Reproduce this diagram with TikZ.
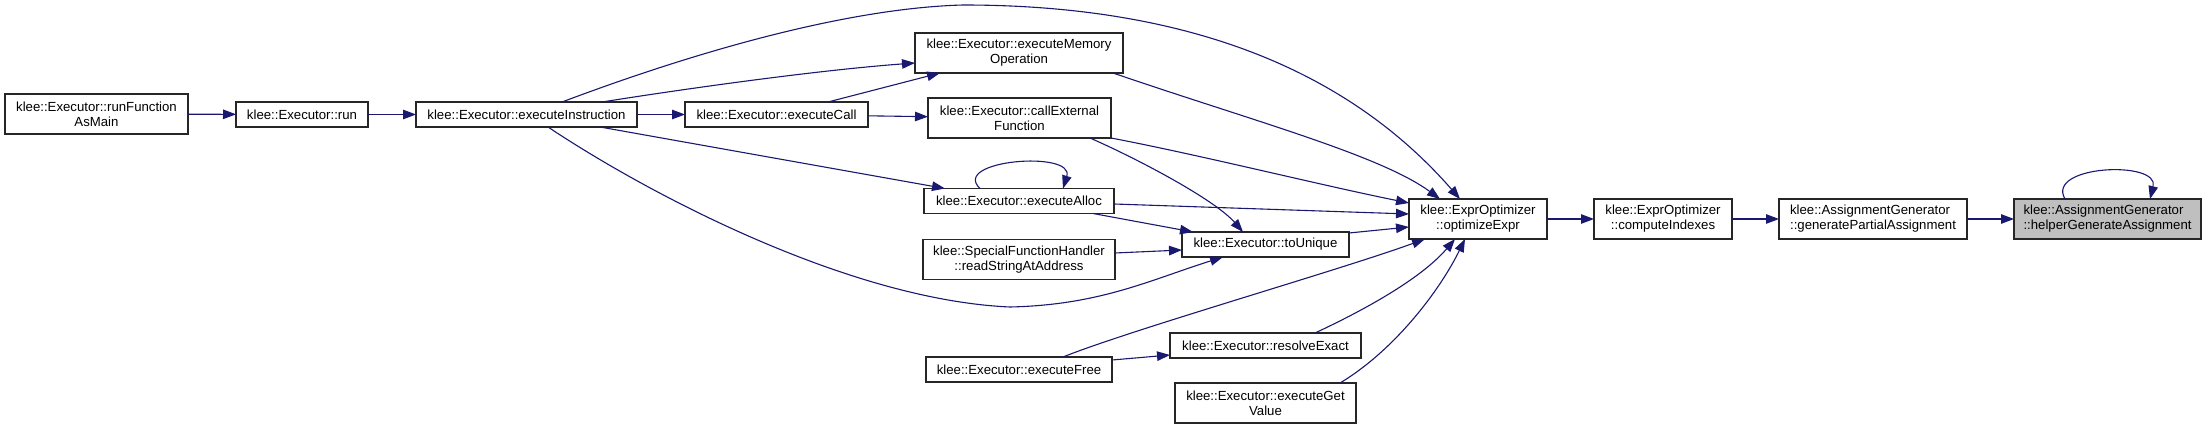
\documentclass[tikz,border=0pt]{standalone}
\usepackage{fontspec}
\setmainfont{Liberation Sans}
\usetikzlibrary{arrows.meta}
\definecolor{edgecol}{HTML}{191970}
\definecolor{boxline}{HTML}{262626}
\definecolor{hl}{HTML}{BFBFBF}
\begin{document}
\begin{tikzpicture}[x=1pt,y=-1pt,
  font=\fontsize{13.2}{15}\selectfont,
  box/.style={draw=boxline, line width=1.4pt, fill=white, inner sep=0pt, outer sep=0pt, align=center},
  lbox/.style={box, align=left},
  edge/.style={draw=edgecol, line width=1.1pt, -{Triangle[length=13pt,width=9.5pt]}}]
\fill[white] (0,0) rectangle (2207,430);
\useasboundingbox (0,0) rectangle (2207,430);
% nodes
\node[box, minimum width=183pt, minimum height=40pt] (runMain) at (96.5,114) {klee::Executor::runFunction\\AsMain};
\node[box, minimum width=132pt, minimum height=25pt] (run) at (302,114.5) {klee::Executor::run};
\node[box, minimum width=221pt, minimum height=25pt] (execInstr) at (526.5,114.5) {klee::Executor::executeInstruction};
\node[box, minimum width=183pt, minimum height=25pt] (execCall) at (776.5,114.5) {klee::Executor::executeCall};
\node[box, minimum width=208pt, minimum height=40pt] (execMemOp) at (1019,53) {klee::Executor::executeMemory\\Operation};
\node[box, minimum width=183pt, minimum height=40pt] (callExt) at (1019.5,118) {klee::Executor::callExternal\\Function};
\node[box, minimum width=190pt, minimum height=25pt] (execAlloc) at (1019,201) {klee::Executor::executeAlloc};
\node[box, minimum width=192pt, minimum height=40pt] (readStr) at (1019,259.5) {klee::SpecialFunctionHandler\\::readStringAtAddress};
\node[box, minimum width=167pt, minimum height=25pt] (toUnique) at (1265.5,244.5) {klee::Executor::toUnique};
\node[box, minimum width=191pt, minimum height=25pt] (resolve) at (1265.5,345.5) {klee::Executor::resolveExact};
\node[box, minimum width=186pt, minimum height=25pt] (execFree) at (1019,369.5) {klee::Executor::executeFree};
\node[box, minimum width=181pt, minimum height=40pt] (getVal) at (1265.5,403) {klee::Executor::executeGet\\Value};
\node[box, minimum width=138pt, minimum height=40pt] (optExpr) at (1478,219) {klee::ExprOptimizer\\::optimizeExpr};
\node[box, minimum width=138pt, minimum height=40pt] (compIdx) at (1663,219) {klee::ExprOptimizer\\::computeIndexes};
\node[lbox, minimum width=188pt, minimum height=40pt] (genPart) at (1873,219) {klee::AssignmentGenerator\\::generatePartialAssignment};
\node[lbox, fill=hl, minimum width=187pt, minimum height=40pt] (helper) at (2107.5,219) {klee::AssignmentGenerator\\::helperGenerateAssignment};
% edges
\draw[edge] (runMain) -- (run);
\draw[edge] (run) -- (execInstr);
\draw[edge] (execInstr) -- (execCall);
\draw[edge] ([xshift=35.5pt]execInstr.north) .. controls (700,50) and (850,8) .. (963,5) .. controls (1150,5) and (1330,50) .. ([xshift=-18pt]optExpr.north);
\draw[edge] ([xshift=75.5pt]execInstr.north) .. controls (690,88) and (820,70) .. ([yshift=-10pt]execMemOp.west);
\draw[edge] ([xshift=51.5pt]execCall.north) -- ([xshift=-79pt]execMemOp.south);
\draw[edge] (execCall) -- (callExt);
\draw[edge] ([xshift=73.5pt]execInstr.south) -- ([xshift=-74pt]execAlloc.north);
\draw[edge] ([xshift=21.5pt]execInstr.south) .. controls (650,195) and (850,300) .. (1010,307) .. controls (1100,305) and (1150,280) .. ([xshift=-42.5pt]toUnique.south);
\draw[edge] ([xshift=70.5pt]callExt.south) .. controls (1140,160) and (1215,200) .. ([xshift=-22.5pt]toUnique.north);
\draw[edge] ([xshift=74pt]execAlloc.south) -- ([xshift=-72.5pt]toUnique.north);
\draw[edge] ([yshift=6.5pt]readStr.east) -- ([yshift=-5.5pt]toUnique.west);
\draw[edge] ([yshift=9.5pt]execFree.east) -- ([yshift=-9.5pt]resolve.west);
\draw[edge] ([xshift=-39pt]execAlloc.north) .. controls (950,160) and (1075,150) .. ([xshift=44pt]execAlloc.north);
\draw[edge] ([xshift=94pt]execMemOp.south) .. controls (1250,120) and (1380,155) .. ([xshift=-38pt]optExpr.north);
\draw[edge] (callExt.south east) .. controls (1200,155) and (1320,185) .. ([yshift=16pt]optExpr.west);
\draw[edge] ([yshift=-3pt]execAlloc.east) -- ([yshift=5pt]optExpr.west);
\draw[edge] ([yshift=11.5pt]toUnique.east) -- ([yshift=-8pt]optExpr.west);
\draw[edge] ([xshift=44pt]execFree.north) .. controls (1130,330) and (1340,270) .. ([xshift=-53pt]optExpr.south);
\draw[edge] ([xshift=49.5pt]resolve.north) .. controls (1360,312) and (1420,280) .. ([xshift=-23pt]optExpr.south);
\draw[edge] ([xshift=74.5pt]getVal.north) .. controls (1395,350) and (1440,290) .. ([xshift=-13pt]optExpr.south);
\draw[edge] (optExpr) -- (compIdx);
\draw[edge] (compIdx) -- (genPart);
\draw[edge] (genPart) -- (helper);
\draw[edge] ([xshift=-42.5pt]helper.north) .. controls (2045,165) and (2160,160) .. ([xshift=42.5pt]helper.north);
\end{tikzpicture}
\end{document}
